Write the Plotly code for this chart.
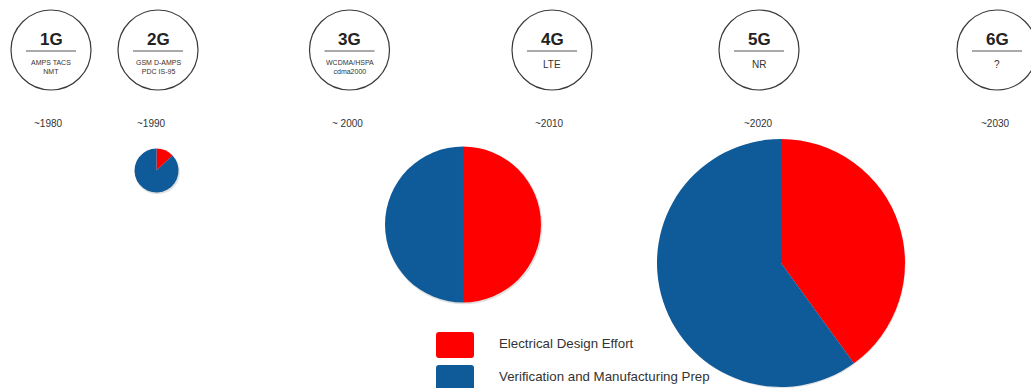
import plotly.graph_objects as go

W, H = 1031, 388

# Generations along the timeline
generations = ["1G", "2G", "3G", "4G", "5G", "6G"]
technologies = [
    "AMPS TACS<br>NMT",
    "GSM D-AMPS<br>PDC IS-95",
    "WCDMA/HSPA<br>cdma2000",
    "LTE",
    "NR",
    "?",
]
years = ["~1980", "~1990", "~ 2000", "~2010", "~2020", "~2030"]

# Effort split per generation (percent), None where no pie is drawn
series_names = ["Electrical Design Effort", "Verification and Manufacturing Prep"]
electrical_effort = [None, 13, 50, None, 40, None]
verification_effort = [None, 87, 50, None, 60, None]

colors = ["#FF0000", "#0F5A98"]

# Layout (pixel units)
gen_x = [51, 158, 349.5, 552, 759, 997]
year_x = [48, 151, 347.5, 549, 758, 995]
circle_r = 40
circle_y = 50
pie_centers = {1: (156.5, 170.5), 2: (463, 224.5), 4: (781, 263)}
pie_radius = {1: 22, 2: 78, 4: 124}


def pie_domain(cx, cy, r):
    # keep the circle inside the canvas so its radius is preserved
    r = min(r, H - cy, cy, cx, W - cx)
    return dict(x=[(cx - r) / W, (cx + r) / W],
                y=[1 - (cy + r) / H, 1 - (cy - r) / H])


def rounded_rect(x0, y0, x1, y1, r):
    return (f"M {x0 + r},{y0} L {x1 - r},{y0} Q {x1},{y0} {x1},{y0 + r} "
            f"L {x1},{y1 - r} Q {x1},{y1} {x1 - r},{y1} L {x0 + r},{y1} "
            f"Q {x0},{y1} {x0},{y1 - r} L {x0},{y0 + r} Q {x0},{y0} {x0 + r},{y0} Z")


fig = go.Figure()

shapes = []
annotations = []

for i, g in enumerate(generations):
    cx = gen_x[i]
    shapes.append(dict(type="circle", xref="x", yref="y",
                       x0=cx - circle_r, x1=cx + circle_r,
                       y0=circle_y - circle_r, y1=circle_y + circle_r,
                       line=dict(color="#3a3a3a", width=1.2)))
    shapes.append(dict(type="line", xref="x", yref="y",
                       x0=cx - 25, x1=cx + 25, y0=51, y1=51,
                       line=dict(color="#555555", width=1)))
    annotations.append(dict(x=cx, y=39.5, xref="x", yref="y", text=f"<b>{g}</b>",
                            showarrow=False, xanchor="center", yanchor="middle",
                            font=dict(family="Liberation Sans, Arial", size=17, color="#222222")))
    small = "<br>" in technologies[i]
    annotations.append(dict(x=cx, y=67 if small else 64, xref="x", yref="y",
                            text=technologies[i], showarrow=False,
                            xanchor="center", yanchor="middle",
                            font=dict(family="Liberation Sans, Arial",
                                      size=7 if small else 10, color="#333333")))
    annotations.append(dict(x=year_x[i], y=123.5, xref="x", yref="y", text=years[i],
                            showarrow=False, xanchor="center", yanchor="middle",
                            font=dict(family="Liberation Sans, Arial", size=10, color="#333333")))

# Pies: effort split per generation
for i in range(len(generations)):
    if electrical_effort[i] is None:
        continue
    cx, cy = pie_centers[i]
    r = pie_radius[i]
    # soft drop shadow
    fig.add_trace(go.Pie(
        values=[1], marker=dict(colors=["rgba(0,0,0,0.12)"]),
        domain=pie_domain(cx + 0.8, cy + 1.2, r + 0.6),
        textinfo="none", hoverinfo="skip", showlegend=False, sort=False))
    fig.add_trace(go.Pie(
        labels=series_names,
        values=[electrical_effort[i], verification_effort[i]],
        marker=dict(colors=colors, line=dict(width=0)),
        domain=pie_domain(cx, cy, r),
        direction="clockwise", rotation=0, sort=False,
        textinfo="none", showlegend=False, name=generations[i]))

# Legend swatches
legend_y = [345, 378]
for k, name in enumerate(series_names):
    yc = legend_y[k]
    shapes.append(dict(type="path", xref="x", yref="y",
                       path=rounded_rect(436, yc - 13, 474, yc + 13, 3),
                       fillcolor=colors[k], line=dict(width=0), layer="above"))
    annotations.append(dict(x=496.5, y=yc - 1.5, xref="x", yref="y", text=name,
                            showarrow=False, xanchor="left", yanchor="middle",
                            font=dict(family="Liberation Sans, Arial", size=13.3, color="#333333")))

fig.update_layout(
    width=W, height=H,
    margin=dict(l=0, r=0, t=0, b=0),
    paper_bgcolor="white", plot_bgcolor="white",
    xaxis=dict(range=[0, W], visible=False, fixedrange=True),
    yaxis=dict(range=[H, 0], visible=False, fixedrange=True),
    shapes=shapes, annotations=annotations,
    showlegend=False,
)

fig.write_html("out.html")
